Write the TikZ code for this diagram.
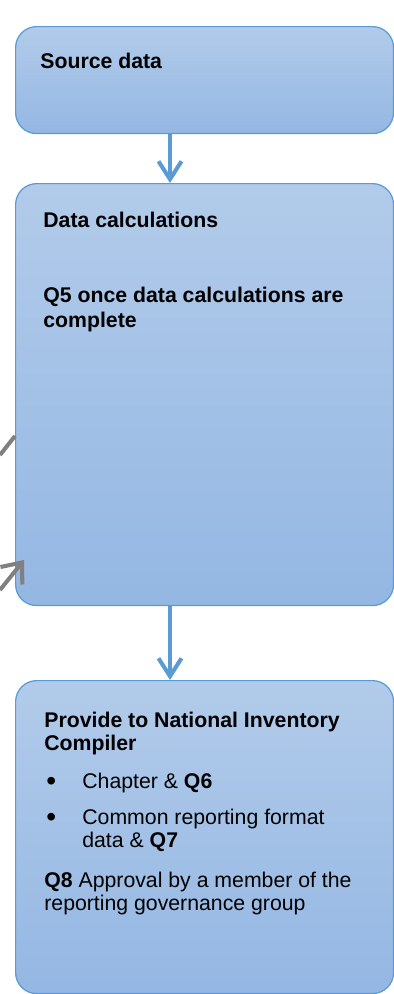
\documentclass[tikz,border=0pt]{standalone}
\usepackage{fontspec}
\setmainfont{Liberation Sans}
\usetikzlibrary{arrows.meta}
\definecolor{boxtop}{RGB}{178,203,234}
\definecolor{boxbot}{RGB}{148,183,227}
\definecolor{boxline}{RGB}{91,155,213}
\definecolor{flow}{RGB}{91,155,213}
\definecolor{ext}{RGB}{128,128,128}

\begin{document}
\begin{tikzpicture}[x=0.02cm,y=-0.02cm,
    stage/.style={draw=boxline,line width=0.7pt,rounded corners=0.42cm,
      top color=boxtop,bottom color=boxbot,anchor=north west,
      minimum width=7.56cm,inner sep=0pt},
    lbl/.style={anchor=base west,inner sep=0pt,font=\fontsize{12.1}{14}\selectfont},
    flowarrow/.style={flow,line width=2.3pt,
      -{Straight Barb[length=0.36cm,width=0.46cm]}},
    extline/.style={ext,line width=2.3pt}]
    \useasboundingbox (0,0) rectangle (394,994);
    % stages
    \node[stage,minimum height=2.14cm] (src) at (15,26) {};
    \node[stage,minimum height=8.44cm] (calc) at (15,183) {};
    \node[stage,minimum height=6.26cm] (nic) at (15,680) {};
    % headings
    \node[lbl,font=\fontsize{12.1}{14}\selectfont\bfseries] (t0) at (40,68) {Source data};
    \foreach \x/\y/\txt [count=\i] in {
      43/227/{Data calculations},
      43/302/{Q5 once data calculations are},
      43/327/{complete},
      44/727/{Provide to National Inventory},
      44/750/{Compiler}}{
      \node[lbl,font=\fontsize{12.1}{14}\selectfont\bfseries] (t\i) at (\x,\y) {\txt};
    }
    % list and approval
    \node[lbl,font=\fontsize{16}{16}\selectfont] (b1) at (46,790) {•};
    \node[lbl,font=\fontsize{16}{16}\selectfont] (b2) at (46,826) {•};
    \foreach \x/\y/\txt [count=\i] in {
      82/788/{Chapter \& \textbf{Q6}},
      82/824/{Common reporting format},
      82/847/{data \& \textbf{Q7}},
      44/887/{\textbf{Q8} Approval by a member of the},
      44/910/{reporting governance group}}{
      \node[lbl] (l\i) at (\x,\y) {\txt};
    }
    % flow
    \coordinate (axis) at (170,0);
    \draw[flowarrow] (src.south -| axis) -- (calc.north -| axis);
    \draw[flowarrow] (calc.south -| axis) -- (nic.north -| axis);
    % links from outside
    \coordinate (in1) at (0,455);
    \coordinate (in2) at (0,590);
    \coordinate (in2tip) at (24,560);
    \draw[extline] (in1) -- (calc.west |- 0,436);
    \draw[extline,-{Straight Barb[length=0.34cm,width=0.56cm]}] (in2) -- (in2tip);
\end{tikzpicture}
\end{document}
